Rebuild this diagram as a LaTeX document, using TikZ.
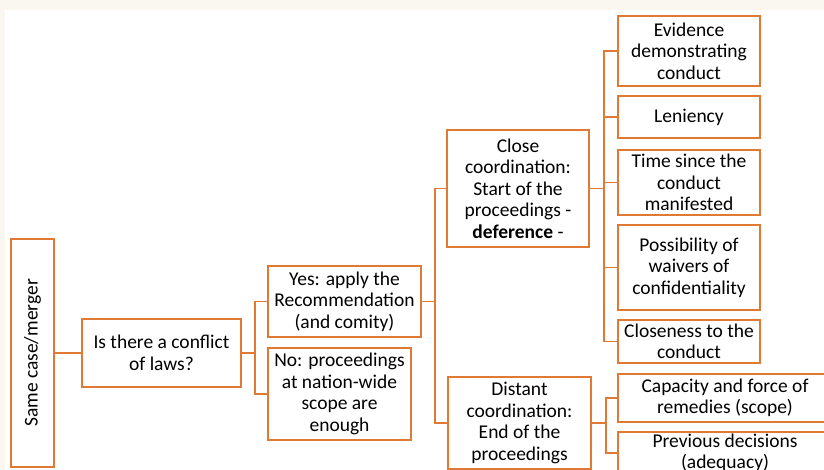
\documentclass[tikz,border=0pt]{standalone}
\usepackage{fontspec}
\setmainfont{Carlito}
\definecolor{boxorange}{RGB}{224,121,52}
\definecolor{paper}{RGB}{250,247,241}
\begin{document}
\begin{tikzpicture}[x=1pt,y=-1pt,
                    mybox/.style={draw=boxorange,line width=1.8pt,align=center,inner sep=0pt,
                                  font=\fontsize{19.5}{21.5}\selectfont},
                    link/.style={draw=boxorange,line width=1.8pt}]
\clip (0,0) rectangle (824,470);
\fill[paper] (0,0) rectangle (824,10);
\fill[paper] (0,0) rectangle (5,470);
\node[mybox,rotate=90,minimum width=228,minimum height=43] (same) at (32.5,353) {Same case/merger};
\node[mybox,minimum width=159,minimum height=68] (conf) at (161.5,353) {Is there a conflict\\of laws?};
\node[mybox,minimum width=153,minimum height=71] (yes) at (344.5,301.5) {Yes: apply the\\Recommendation\\(and comity)};
\node[mybox,minimum width=143,minimum height=92] (no) at (339.5,394) {No: proceedings\\at nation-wide\\scope are\\enough};
\node[mybox,minimum width=142,minimum height=117] (close) at (518,188.5) {Close\\coordination:\\Start of the\\proceedings -\\\textbf{deference} -};
\node[mybox,minimum width=143,minimum height=92] (dist) at (519.5,423) {Distant\\coordination:\\End of the\\proceedings};
\node[mybox,minimum width=142,minimum height=70] (ev) at (689,51) {Evidence\\demonstrating\\conduct};
\node[mybox,minimum width=142,minimum height=42] (len) at (689,117) {Leniency};
\node[mybox,minimum width=142,minimum height=65] (time) at (689,182.5) {Time since the\\conduct\\manifested};
\node[mybox,minimum width=142,minimum height=85] (poss) at (689,267.5) {Possibility of\\waivers of\\confidentiality};
\node[mybox,minimum width=142,minimum height=43] (clos) at (689,341.5) {Closeness to the\\conduct};
\node[mybox,minimum width=214,minimum height=48] (cap) at (725,398) {Capacity and force of\\remedies (scope)};
\node[mybox,minimum width=214,minimum height=42] (prev) at (725,453) {Previous decisions\\(adequacy)};
\draw[link] (same) -- (conf);
\draw[link] (conf.east) -- ++(13,0) |- (yes.west);
\draw[link] (conf.east) -- ++(13,0) |- (no.west);
\draw[link] (yes.east) -- ++(13,0) |- (close.west);
\draw[link] (yes.east) -- ++(13,0) |- (dist.west);
\foreach \k in {ev,len,time,poss,clos}
  \draw[link] (close.east) -- ++(14,0) |- (\k.west);
\foreach \k in {cap,prev}
  \draw[link] (dist.east) -- ++(14,0) |- (\k.west);
\end{tikzpicture}
\end{document}
